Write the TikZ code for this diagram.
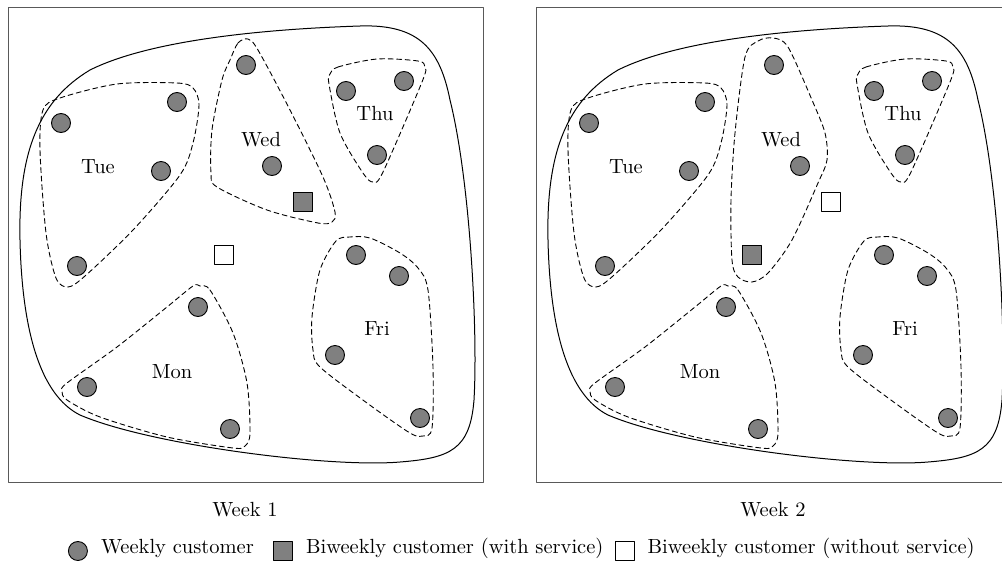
\documentclass[tikz,border=0pt]{standalone}
\usepackage{fontspec}
\setmainfont{lmroman10-regular.otf}
\usetikzlibrary{positioning}
\begin{document}
\begin{tikzpicture}[x=1pt,y=-1pt,line cap=round,line join=round,font=\fontsize{20.5}{24}\selectfont,
	cust/.style={circle,draw,fill=gray,line width=.9pt,minimum size=19pt,inner sep=0pt},
	biw/.style={rectangle,draw,line width=.9pt,minimum size=19pt,inner sep=0pt},
	hull/.style={dash pattern=on 5pt off 3.5pt,line width=.9pt},
	frame/.style={draw=black!65,line width=.9pt},
	legtext/.style={inner sep=0pt,text height=1.45ex,text depth=.3ex}]
	\useasboundingbox (0,0) rectangle (1002,563);
	% the two weeks
	\foreach \w/\dx in {1/0,2/528}{
	\begin{scope}[xshift=\dx]
		\draw[frame] (8,7) rectangle (483,482);
		\draw[line width=1pt] (20,240) .. controls (18,150) and (40,100) .. (90,70)
			.. controls (160,35) and (300,28) .. (360,26)
			.. controls (420,24) and (440,50) .. (450,100)
			.. controls (470,180) and (478,330) .. (474,400)
			.. controls (470,450) and (450,458) .. (400,462)
			.. controls (330,468) and (150,445) .. (80,415)
			.. controls (40,395) and (22,330) .. (20,240) -- cycle;
		% Tue
		\draw[hull] plot[smooth cycle,tension=.5] coordinates {(43,110) (60,98) (117,84) (177,83) (193,88) (199,105) (193,143) (180,175) (133,230) (85,276) (68,287) (56,278) (46,233) (40,150)};
		\node[cust] (tue-a-\w) at (61,123) {};
		\node[cust] (tue-b-\w) at (177,102) {};
		\node[cust] (tue-c-\w) at (161,171) {};
		\node[cust] (tue-d-\w) at (77,266) {};
		\node (tue-\w) at (98,167) {Tue};
		% Wed
		\node[cust] (wed-a-\w) at (246,65) {};
		\node[cust] (wed-b-\w) at (272,166) {};
		% Thu
		\draw[hull] plot[smooth cycle,tension=.5] coordinates {(330,74) (338,67) (377,59) (418,61) (425,67) (422,82) (383,172) (373,182) (363,173) (340,133) (329,84)};
		\node[cust] (thu-a-\w) at (346,91) {};
		\node[cust] (thu-b-\w) at (404,81) {};
		\node[cust] (thu-c-\w) at (377,155) {};
		\node (thu-\w) at (375,113) {Thu};
		% Fri
		\draw[hull] plot[smooth cycle,tension=.5] coordinates {(350,237) (336,241) (320,270) (312,317) (313,350) (320,367) (367,403) (410,433) (423,436) (432,428) (433,367) (428,290) (418,268) (400,253) (370,238)};
		\node[cust] (fri-a-\w) at (356,255) {};
		\node[cust] (fri-b-\w) at (399,276) {};
		\node[cust] (fri-c-\w) at (335,355) {};
		\node[cust] (fri-d-\w) at (420,418) {};
		\node (fri-\w) at (377,329) {Fri};
		% Mon
		\draw[hull] plot[smooth cycle,tension=.5] coordinates {(200,286) (210,290) (233,333) (247,383) (250,433) (245,446) (233,448) (167,437) (100,417) (67,400) (62,391) (67,383) (117,347) (167,307) (193,286)};
		\node[cust] (mon-a-\w) at (198,307) {};
		\node[cust] (mon-b-\w) at (87,387) {};
		\node[cust] (mon-c-\w) at (230,429) {};
		\node (mon-\w) at (172,372) {Mon};
	\end{scope}
	}
	% week 1: Wed and biweekly customers
	\draw[hull] plot[smooth cycle,tension=.5] coordinates {(230,60) (238,43) (248,39) (258,50) (290,110) (323,177) (335,212) (332,222) (318,223) (267,210) (217,187) (211,173) (212,130) (222,80)};
	\node (wed-1) at (261,140) {Wed};
	\node[biw,fill=gray] (serv-1) at (303,202) {};
	\node[biw,fill=white] (skip-1) at (224,255) {};
	\node (week-1) at (245,510) {Week 1};
	% week 2
	\begin{scope}[xshift=528]
		\draw[hull] plot[smooth cycle,tension=.5] coordinates {(217,57) (230,41) (245,38) (260,47) (284,100) (297,133) (299,160) (290,183) (264,240) (240,273) (224,282) (210,277) (204,260) (203,200) (207,133)};
		\node (wed-2) at (253,140) {Wed};
		\node[biw,fill=gray] (serv-2) at (224,255) {};
		\node[biw,fill=white] (skip-2) at (303,202) {};
		\node (week-2) at (245,510) {Week 2};
	\end{scope}
	% legend
	\node[biw,fill=gray] (lg-serv) at (283,551) {};
	\node[legtext,right=13pt of lg-serv] (lt-serv) {Biweekly customer (with service)};
	\node[biw,fill=white,right=11pt of lt-serv] (lg-skip) {};
	\node[legtext,right=13pt of lg-skip] (lt-skip) {Biweekly customer (without service)};
	\node[legtext,left=19pt of lg-serv] (lt-week) {Weekly customer};
	\node[cust,left=13pt of lt-week] (lg-week) {};
\end{tikzpicture}
\end{document}
